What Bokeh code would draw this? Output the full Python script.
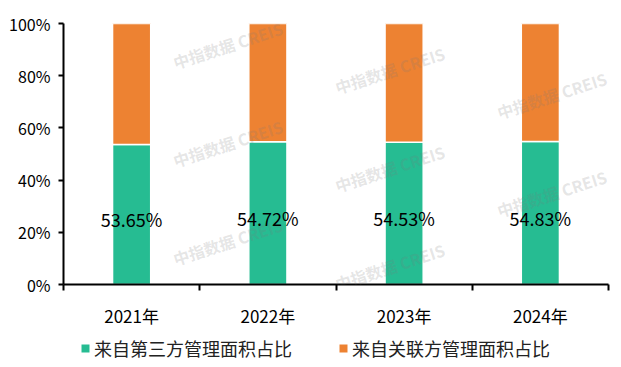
import math
from bokeh.plotting import figure
from bokeh.layouts import column
from bokeh.models import (Range1d, FixedTicker, Legend, LegendItem, Label, ColumnDataSource, LabelSet)
from bokeh.core.properties import value
from bokeh.embed import file_html
from bokeh.resources import INLINE

years = ["2021年", "2022年", "2023年", "2024年"]
third_party = [53.65, 54.72, 54.53, 54.83]
related = [round(100 - v, 2) for v in third_party]
y_ticks = [0, 20, 40, 60, 80, 100]
series_names = ["来自第三方管理面积占比", "来自关联方管理面积占比"]
colors = ["#26BC92", "#ED8232"]

FONT = "Noto Sans CJK SC"
W = 612

xs = [i + 0.5 for i in range(len(years))]
src = ColumnDataSource(dict(
    x=xs, a=third_party, b=related,
    mid=[v / 2 for v in third_party],
    lab=[f"{v:.2f}%" for v in third_party],
))

p = figure(width=W, height=330, output_backend="svg", toolbar_location=None,
           x_range=Range1d(0, len(years)), y_range=Range1d(0, 100),
           min_border_left=63, min_border_right=4, min_border_top=23, min_border_bottom=36)
p.outline_line_color = None
p.xgrid.visible = False
p.ygrid.visible = False

# faint watermark tiling (inside plotting area)
ang = math.radians(18)
for k in range(1, 4):
    cx = 67 + 162 * k
    for m in range(0, 3):
        cy = 19 + 26 * k + 102 * m
        if cy > 285:
            continue
        p.add_layout(Label(x=(cx - 63) / 136.25, y=(294 - cy) / 2.71, text="中指数据  CREIS",
                           angle=ang, text_align="center", text_baseline="middle",
                           text_font=FONT, text_font_size="16px", text_font_style="bold",
                           text_color="#7a7a7a", text_alpha=0.2))

r = p.vbar_stack(["a", "b"], x="x", width=0.28, source=src, color=colors,
                 line_color="white", line_width=1.5)

p.add_layout(LabelSet(x="x", y="mid", text="lab", source=src, text_align="center",
                      text_baseline="middle", y_offset=-5,
                      text_font=value(FONT), text_font_size=value("18px"),
                      text_color="black"))

# axes
p.yaxis.ticker = FixedTicker(ticks=y_ticks)
p.yaxis.major_label_overrides = {t: f"{t}%" for t in y_ticks}
p.yaxis.major_label_text_font = FONT
p.yaxis.major_label_text_font_size = "16px"
p.yaxis.major_label_text_color = "black"
p.yaxis.axis_line_color = "black"
p.yaxis.axis_line_width = 2
p.yaxis.major_tick_line_color = "black"
p.yaxis.major_tick_line_width = 2
p.yaxis.major_tick_in = 0
p.yaxis.major_tick_out = 5
p.yaxis.minor_tick_line_color = None
p.yaxis.major_label_standoff = 8

p.xaxis.ticker = FixedTicker(ticks=xs, minor_ticks=list(range(len(years) + 1)))
p.xaxis.major_label_overrides = {x: y for x, y in zip(xs, years)}
p.xaxis.major_label_text_font = FONT
p.xaxis.major_label_text_font_size = "17px"
p.xaxis.major_label_text_color = "black"
p.xaxis.axis_line_color = "black"
p.xaxis.axis_line_width = 2
p.xaxis.major_tick_line_color = None
p.xaxis.major_tick_in = 0
p.xaxis.major_tick_out = 0
p.xaxis.minor_tick_line_color = "black"
p.xaxis.minor_tick_line_width = 2
p.xaxis.minor_tick_in = 0
p.xaxis.minor_tick_out = 6
p.xaxis.major_label_standoff = 12

# legend strip (frame aligned with the main plot's frame by the column layout)
lg = figure(width=W, height=37, output_backend="svg", toolbar_location=None,
            x_range=Range1d(0, len(years)), y_range=Range1d(500, 501),
            x_axis_location=None, y_axis_location=None,
            min_border_left=0, min_border_right=0, min_border_top=0, min_border_bottom=0)
lg.grid.visible = False
lg.outline_line_color = None
keys = ["a", "b"]
proxies = [lg.vbar(x="x", top=keys[i], width=0.28, source=src, fill_color=colors[i], line_color=None)
           for i in range(2)]
legend = Legend(items=[LegendItem(label=series_names[i], renderers=[proxies[i]]) for i in range(2)],
                orientation="horizontal", location=(17, 6),
                glyph_width=10, glyph_height=10, label_standoff=4, spacing=46,
                label_text_font=FONT, label_text_font_size="18px", label_text_color="#222222",
                padding=0, margin=0, border_line_alpha=0, background_fill_alpha=0)
lg.add_layout(legend, "center")

layout = column(p, lg, spacing=0)
open("out.html", "w").write(file_html(layout, INLINE))
